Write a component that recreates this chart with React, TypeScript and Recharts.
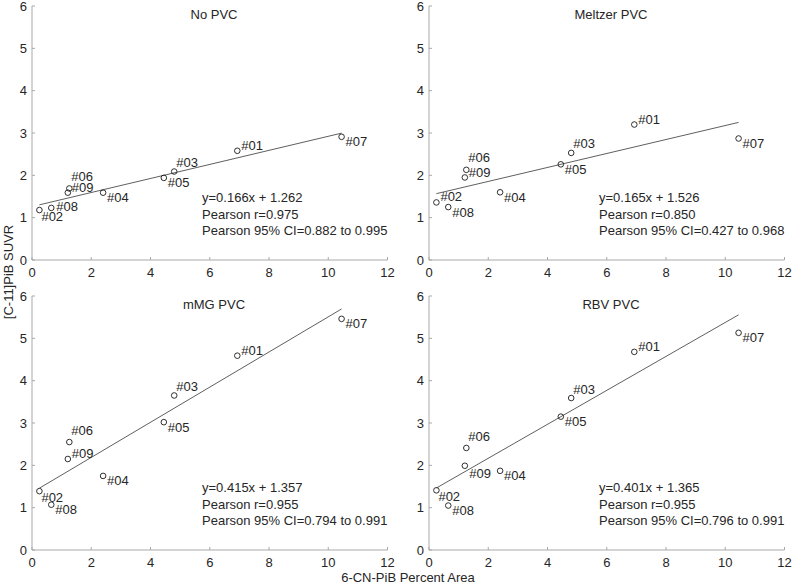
import React from 'react';
import { ScatterChart, Scatter, XAxis, YAxis, ReferenceLine } from 'recharts';

// ---------- data ----------
const subjects = ['#01', '#02', '#03', '#04', '#05', '#06', '#07', '#08', '#09'];
const percentArea = [6.93, 0.25, 4.8, 2.4, 4.45, 1.26, 10.45, 0.65, 1.21];
const suvrNoPVC = [2.58, 1.18, 2.09, 1.59, 1.94, 1.69, 2.91, 1.23, 1.59];
const suvrMeltzer = [3.2, 1.36, 2.53, 1.6, 2.26, 2.13, 2.87, 1.25, 1.95];
const suvrMMG = [4.59, 1.39, 3.65, 1.75, 3.02, 2.55, 5.46, 1.07, 2.15];
const suvrRBV = [4.68, 1.41, 3.59, 1.87, 3.15, 2.41, 5.13, 1.05, 1.99];

const panelTitles = ['No PVC', 'Meltzer PVC', 'mMG PVC', 'RBV PVC'];
const fitSlopes = [0.166, 0.165, 0.415, 0.401];
const fitIntercepts = [1.262, 1.526, 1.357, 1.365];
const pearsonR = ['0.975', '0.850', '0.955', '0.955'];
const ciLow = ['0.882', '0.427', '0.794', '0.796'];
const ciHigh = ['0.995', '0.968', '0.991', '0.991'];

const xTicks = [0, 2, 4, 6, 8, 10, 12];
const yTicks = [0, 1, 2, 3, 4, 5, 6];

const xLabel = '6-CN-PiB Percent Area';
const yLabel = '[C-11]PiB SUVR';

// ---------- style ----------
const PLACE: Record<string, [number, number]> = {
  dr: [4, 5],
  ur: [4, -5.5],
  u: [2, -9],
  uu: [2, -12],
  d: [2, 6.5],
  dd: [4.5, 8],
  r: [5, -1.3],
};
const labelPlacement = [
  ['ur', 'd', 'u', 'dr', 'dr', 'uu', 'dr', 'r', 'ur'],
  ['ur', 'ur', 'u', 'dr', 'dr', 'uu', 'dr', 'dr', 'ur'],
  ['ur', 'd', 'u', 'dr', 'dr', 'uu', 'dr', 'dr', 'ur'],
  ['ur', 'd', 'u', 'dr', 'dr', 'uu', 'dr', 'dr', 'dd'],
];
const panelPos: [number, number][] = [
  [0, 0],
  [397, 0],
  [0, 290],
  [397, 290],
];

const FONT = '"Liberation Sans", Arial, Helvetica, sans-serif';
const AXIS_COLOR = '#a9a9a9';
const TEXT_COLOR = '#262626';
const CHART_W = 396;
const CHART_H = 290;
const Y_AXIS_W = 32;

const seriesList = [suvrNoPVC, suvrMeltzer, suvrMMG, suvrRBV];

function Panel({ idx }: { idx: number }) {
  const ys = seriesList[idx];
  const data = subjects.map((s, i) => ({ name: s, x: percentArea[i], y: ys[i], place: labelPlacement[idx][i] }));
  const xmin = Math.min(...percentArea);
  const xmax = Math.max(...percentArea);
  const a = fitSlopes[idx];
  const b = fitIntercepts[idx];
  const [left, top] = panelPos[idx];

  const shape = (props: any) => {
    const { cx, cy, payload } = props;
    const off = PLACE[payload.place] || [4, 5];
    return (
      <g>
        <circle cx={cx} cy={cy} r={2.8} fill="none" stroke="#1a1a1a" strokeWidth={0.9} />
        <text x={cx + off[0]} y={cy + off[1]} dy="0.35em" fontSize={13} fill={TEXT_COLOR} fontFamily={FONT}>
          {payload.name}
        </text>
      </g>
    );
  };

  return (
    <div style={{ position: 'absolute', left, top, width: CHART_W, height: CHART_H }}>
      <ScatterChart width={CHART_W} height={CHART_H} margin={{ top: 6, right: 8.5, bottom: 0, left: 0 }}>
        <XAxis
          type="number"
          dataKey="x"
          domain={[0, 12]}
          ticks={xTicks}
          interval={0}
          height={30}
          axisLine={{ stroke: AXIS_COLOR }}
          tickLine={{ stroke: AXIS_COLOR }}
          tickSize={-3}
          tickMargin={10.5}
          tick={{ fontSize: 13, fill: TEXT_COLOR, fontFamily: FONT }}
        />
        <YAxis
          type="number"
          dataKey="y"
          domain={[0, 6]}
          ticks={yTicks}
          interval={0}
          width={Y_AXIS_W}
          axisLine={{ stroke: AXIS_COLOR }}
          tickLine={{ stroke: AXIS_COLOR }}
          tickSize={-3}
          tickMargin={8}
          tick={{ fontSize: 13, fill: TEXT_COLOR, fontFamily: FONT }}
        />
        <ReferenceLine
          segment={[
            { x: xmin, y: a * xmin + b },
            { x: xmax, y: a * xmax + b },
          ]}
          stroke="#4d4d4d"
          strokeWidth={0.9}
          ifOverflow="visible"
        />
        <Scatter data={data} isAnimationActive={false} shape={shape} />
      </ScatterChart>
      <div
        style={{
          position: 'absolute',
          left: 114,
          width: 200,
          top: 7,
          textAlign: 'center',
          fontSize: 13,
          lineHeight: '16px',
          color: TEXT_COLOR,
          whiteSpace: 'nowrap',
        }}
      >
        {panelTitles[idx]}
      </div>
      <div
        style={{
          position: 'absolute',
          left: 202,
          top: 190,
          fontSize: 13,
          lineHeight: '16.5px',
          color: TEXT_COLOR,
          whiteSpace: 'nowrap',
        }}
      >
        <div>{`y=${a.toFixed(3)}x + ${b.toFixed(3)}`}</div>
        <div>{`Pearson r=${pearsonR[idx]}`}</div>
        <div>{`Pearson 95% CI=${ciLow[idx]} to ${ciHigh[idx]}`}</div>
      </div>
    </div>
  );
}

export default function App() {
  return (
    <div
      style={{
        position: 'absolute',
        left: 0,
        top: 0,
        width: 793,
        height: 587,
        background: '#ffffff',
        fontFamily: FONT,
        overflow: 'hidden',
      }}
    >
      {panelTitles.map((_, i) => (
        <Panel key={i} idx={i} />
      ))}
      <div
        style={{
          position: 'absolute',
          left: 308,
          width: 200,
          top: 570,
          textAlign: 'center',
          fontSize: 13,
          lineHeight: '16px',
          color: TEXT_COLOR,
          whiteSpace: 'nowrap',
        }}
      >
        {xLabel}
      </div>
      <div
        style={{
          position: 'absolute',
          left: 9 - 100,
          top: 272 - 8,
          width: 200,
          height: 16,
          textAlign: 'center',
          fontSize: 13,
          lineHeight: '16px',
          color: TEXT_COLOR,
          whiteSpace: 'nowrap',
          transform: 'rotate(-90deg)',
          transformOrigin: '100px 8px',
        }}
      >
        {yLabel}
      </div>
    </div>
  );
}
